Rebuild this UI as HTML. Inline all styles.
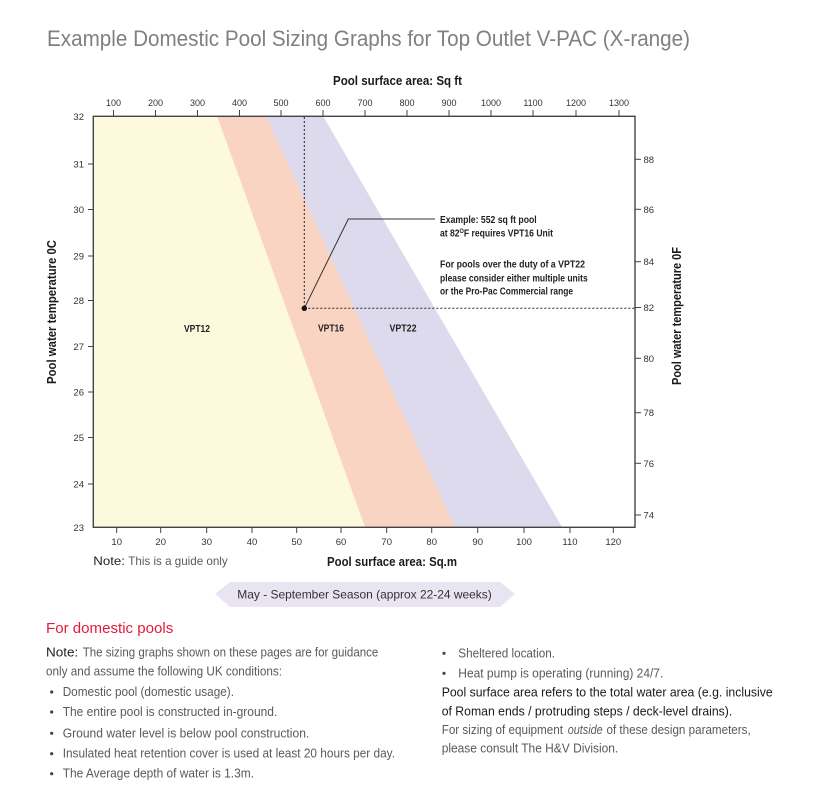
<!DOCTYPE html>
<html><head><meta charset="utf-8"><style>
html,body{margin:0;padding:0;background:#fff;}
svg{display:block;}
.t{font-family:"Liberation Sans",sans-serif;}
.b{font-family:"Liberation Sans",sans-serif;font-weight:bold;}
</style></head><body>
<svg width="814" height="790" viewBox="0 0 814 790" xmlns="http://www.w3.org/2000/svg">
<!-- Title -->
<text class="t" x="47" y="46" font-size="22" fill="#808080" textLength="643" lengthAdjust="spacingAndGlyphs">Example Domestic Pool Sizing Graphs for Top Outlet V-PAC (X-range)</text>

<!-- top axis title -->
<text class="b" x="333" y="85" font-size="13" fill="#1a1a1a" textLength="129" lengthAdjust="spacingAndGlyphs">Pool surface area: Sq ft</text>

<!-- bands -->
<polygon points="93,116 217,116 365,527 93,527" fill="#fdf9dc"/>
<polygon points="217,116 266,116 455,527 365,527" fill="#f9d4c3"/>
<polygon points="266,116 323,116 562,527 455,527" fill="#dcdaec"/>

<!-- frame -->
<rect x="93.3" y="116.3" width="541.7" height="411" fill="none" stroke="#444" stroke-width="1.4"/>

<!-- top ticks -->
<g stroke="#444" stroke-width="1">
<line x1="113.5" y1="110" x2="113.5" y2="116"/>
<line x1="155.5" y1="110" x2="155.5" y2="116"/>
<line x1="197.5" y1="110" x2="197.5" y2="116"/>
<line x1="239.5" y1="110" x2="239.5" y2="116"/>
<line x1="281" y1="110" x2="281" y2="116"/>
<line x1="323" y1="110" x2="323" y2="116"/>
<line x1="365" y1="110" x2="365" y2="116"/>
<line x1="407" y1="110" x2="407" y2="116"/>
<line x1="449" y1="110" x2="449" y2="116"/>
<line x1="491" y1="110" x2="491" y2="116"/>
<line x1="533" y1="110" x2="533" y2="116"/>
<line x1="576" y1="110" x2="576" y2="116"/>
<line x1="619" y1="110" x2="619" y2="116"/>
</g>
<g class="t" font-size="9" fill="#333" text-anchor="middle">
<text x="113.5" y="106">100</text>
<text x="155.5" y="106">200</text>
<text x="197.5" y="106">300</text>
<text x="239.5" y="106">400</text>
<text x="281" y="106">500</text>
<text x="323" y="106">600</text>
<text x="365" y="106">700</text>
<text x="407" y="106">800</text>
<text x="449" y="106">900</text>
<text x="491" y="106">1000</text>
<text x="533" y="106">1100</text>
<text x="576" y="106">1200</text>
<text x="619" y="106">1300</text>
</g>

<!-- left ticks -->
<g stroke="#444" stroke-width="1">
<line x1="88" y1="164" x2="93" y2="164"/>
<line x1="88" y1="209.5" x2="93" y2="209.5"/>
<line x1="88" y1="256" x2="93" y2="256"/>
<line x1="88" y1="300.5" x2="93" y2="300.5"/>
<line x1="88" y1="346.5" x2="93" y2="346.5"/>
<line x1="88" y1="392" x2="93" y2="392"/>
<line x1="88" y1="437.5" x2="93" y2="437.5"/>
<line x1="88" y1="484" x2="93" y2="484"/>
</g>
<g class="t" font-size="9.5" fill="#333" text-anchor="end">
<text x="84" y="120">32</text>
<text x="84" y="167.5">31</text>
<text x="84" y="213">30</text>
<text x="84" y="259.5">29</text>
<text x="84" y="304">28</text>
<text x="84" y="350">27</text>
<text x="84" y="395.5">26</text>
<text x="84" y="441">25</text>
<text x="84" y="487.5">24</text>
<text x="84" y="531">23</text>
</g>

<!-- right ticks -->
<g stroke="#444" stroke-width="1">
<line x1="635" y1="159.3" x2="641" y2="159.3"/>
<line x1="635" y1="209.3" x2="641" y2="209.3"/>
<line x1="635" y1="261.7" x2="641" y2="261.7"/>
<line x1="635" y1="307.5" x2="641" y2="307.5"/>
<line x1="635" y1="358.3" x2="641" y2="358.3"/>
<line x1="635" y1="412.7" x2="641" y2="412.7"/>
<line x1="635" y1="463.3" x2="641" y2="463.3"/>
<line x1="635" y1="515" x2="641" y2="515"/>
</g>
<g class="t" font-size="9.5" fill="#333">
<text x="643.5" y="162.8">88</text>
<text x="643.5" y="212.8">86</text>
<text x="643.5" y="265.2">84</text>
<text x="643.5" y="311">82</text>
<text x="643.5" y="361.8">80</text>
<text x="643.5" y="416.2">78</text>
<text x="643.5" y="466.8">76</text>
<text x="643.5" y="518.5">74</text>
</g>

<!-- bottom ticks -->
<g stroke="#444" stroke-width="1">
<line x1="116.7" y1="527" x2="116.7" y2="533"/>
<line x1="160.7" y1="527" x2="160.7" y2="533"/>
<line x1="206.7" y1="527" x2="206.7" y2="533"/>
<line x1="252" y1="527" x2="252" y2="533"/>
<line x1="296.7" y1="527" x2="296.7" y2="533"/>
<line x1="341" y1="527" x2="341" y2="533"/>
<line x1="386.7" y1="527" x2="386.7" y2="533"/>
<line x1="431.7" y1="527" x2="431.7" y2="533"/>
<line x1="477.7" y1="527" x2="477.7" y2="533"/>
<line x1="524" y1="527" x2="524" y2="533"/>
<line x1="570" y1="527" x2="570" y2="533"/>
<line x1="613.3" y1="527" x2="613.3" y2="533"/>
</g>
<g class="t" font-size="9.5" fill="#333" text-anchor="middle">
<text x="116.7" y="545">10</text>
<text x="160.7" y="545">20</text>
<text x="206.7" y="545">30</text>
<text x="252" y="545">40</text>
<text x="296.7" y="545">50</text>
<text x="341" y="545">60</text>
<text x="386.7" y="545">70</text>
<text x="431.7" y="545">80</text>
<text x="477.7" y="545">90</text>
<text x="524" y="545">100</text>
<text x="570" y="545">110</text>
<text x="613.3" y="545">120</text>
</g>

<!-- axis titles -->
<text class="b" x="327" y="566" font-size="13" fill="#1a1a1a" textLength="130" lengthAdjust="spacingAndGlyphs">Pool surface area: Sq.m</text>
<text class="b" transform="translate(56,384) rotate(-90)" x="0" y="0" font-size="13" fill="#1a1a1a" textLength="144" lengthAdjust="spacingAndGlyphs">Pool water temperature 0C</text>
<text class="b" transform="translate(681,385) rotate(-90)" x="0" y="0" font-size="13" fill="#1a1a1a" textLength="138" lengthAdjust="spacingAndGlyphs">Pool water temperature 0F</text>

<!-- band labels -->
<g class="b" font-size="10" fill="#222">
<text x="184" y="332" textLength="26" lengthAdjust="spacingAndGlyphs">VPT12</text>
<text x="318" y="331.5" textLength="26" lengthAdjust="spacingAndGlyphs">VPT16</text>
<text x="389.5" y="331.5" textLength="27" lengthAdjust="spacingAndGlyphs">VPT22</text>
</g>

<!-- dotted guides -->
<g stroke="#222" stroke-width="1" stroke-dasharray="2,2" fill="none">
<line x1="304.3" y1="117" x2="304.3" y2="308.3"/>
<line x1="304.3" y1="308.3" x2="635" y2="308.3"/>
</g>
<polyline points="304.3,308.3 348.3,219 435,219" fill="none" stroke="#333" stroke-width="1"/>
<circle cx="304.3" cy="308.3" r="2.7" fill="#111"/>

<!-- annotations -->
<g class="b" font-size="10" fill="#222">
<text x="440" y="223" textLength="96.7" lengthAdjust="spacingAndGlyphs">Example: 552 sq ft pool</text>
<text x="440" y="236.5" textLength="113" lengthAdjust="spacingAndGlyphs">at 82<tspan font-size="6.5" dy="-3.5">O</tspan><tspan dy="3.5">F requires VPT16 Unit</tspan></text>
<text x="440" y="267.5" textLength="145" lengthAdjust="spacingAndGlyphs">For pools over the duty of a VPT22</text>
<text x="440" y="281.5" textLength="147.7" lengthAdjust="spacingAndGlyphs">please consider either multiple units</text>
<text x="440" y="294.5" textLength="133" lengthAdjust="spacingAndGlyphs">or the Pro-Pac Commercial range</text>
</g>

<!-- note guide -->
<text class="t" x="93.3" y="565" font-size="12" fill="#222" textLength="31.7" lengthAdjust="spacingAndGlyphs">Note:</text>
<text class="t" x="128.3" y="565" font-size="12" fill="#5a5a5a" textLength="99.4" lengthAdjust="spacingAndGlyphs">This is a guide only</text>

<!-- season banner -->
<polygon points="215,594 230,582 500,582 515,594 500,607 230,607" fill="#e9e4f1"/>
<text class="t" x="237.3" y="598.5" font-size="12" fill="#333" textLength="254.4" lengthAdjust="spacing">May - September Season (approx 22-24 weeks)</text>

<!-- left column -->
<text class="t" x="46" y="633" font-size="15" fill="#e31b3b" textLength="127.3" lengthAdjust="spacingAndGlyphs">For domestic pools</text>
<text class="t" x="46" y="656.7" font-size="12.5" fill="#222" textLength="32.3" lengthAdjust="spacingAndGlyphs">Note:</text>
<text class="t" x="82.7" y="656.7" font-size="12.5" fill="#5a5a5a" textLength="295.6" lengthAdjust="spacingAndGlyphs">The sizing graphs shown on these pages are for guidance</text>
<text class="t" x="46" y="675.5" font-size="12.5" fill="#5a5a5a" textLength="236" lengthAdjust="spacingAndGlyphs">only and assume the following UK conditions:</text>
<g fill="#444">
<circle cx="51.7" cy="692" r="1.6"/>
<circle cx="51.7" cy="712" r="1.6"/>
<circle cx="51.7" cy="733.3" r="1.6"/>
<circle cx="51.7" cy="753.7" r="1.6"/>
<circle cx="51.7" cy="773.7" r="1.6"/>
<circle cx="444" cy="653.3" r="1.6"/>
<circle cx="444" cy="673.3" r="1.6"/>
</g>
<g class="t" font-size="12.5" fill="#5a5a5a">
<text x="62.7" y="696" textLength="171.3" lengthAdjust="spacingAndGlyphs">Domestic pool (domestic usage).</text>
<text x="62.7" y="716" textLength="214.6" lengthAdjust="spacingAndGlyphs">The entire pool is constructed in-ground.</text>
<text x="62.7" y="737.3" textLength="246.6" lengthAdjust="spacingAndGlyphs">Ground water level is below pool construction.</text>
<text x="62.7" y="757.7" textLength="332.3" lengthAdjust="spacingAndGlyphs">Insulated heat retention cover is used at least 20 hours per day.</text>
<text x="62.7" y="777.7" textLength="191.3" lengthAdjust="spacingAndGlyphs">The Average depth of water is 1.3m.</text>
<!-- right column -->
<text x="458.3" y="657.3" textLength="96.7" lengthAdjust="spacingAndGlyphs">Sheltered location.</text>
<text x="458.3" y="677.3" textLength="205" lengthAdjust="spacingAndGlyphs">Heat pump is operating (running) 24/7.</text>
<text x="441.7" y="696.7" fill="#1a1a1a" textLength="331" lengthAdjust="spacingAndGlyphs">Pool surface area refers to the total water area (e.g. inclusive</text>
<text x="441.7" y="715.7" fill="#1a1a1a" textLength="290.6" lengthAdjust="spacingAndGlyphs">of Roman ends / protruding steps / deck-level drains).</text>
<text x="441.7" y="734" textLength="121.3" lengthAdjust="spacingAndGlyphs">For sizing of equipment</text>
<text x="567.7" y="734" font-style="italic" textLength="35" lengthAdjust="spacingAndGlyphs">outside</text>
<text x="606.5" y="734" textLength="144.2" lengthAdjust="spacingAndGlyphs">of these design parameters,</text>
<text x="441.7" y="752.7" textLength="176.6" lengthAdjust="spacingAndGlyphs">please consult The H&amp;V Division.</text>
</g>
</svg>
</body></html>
